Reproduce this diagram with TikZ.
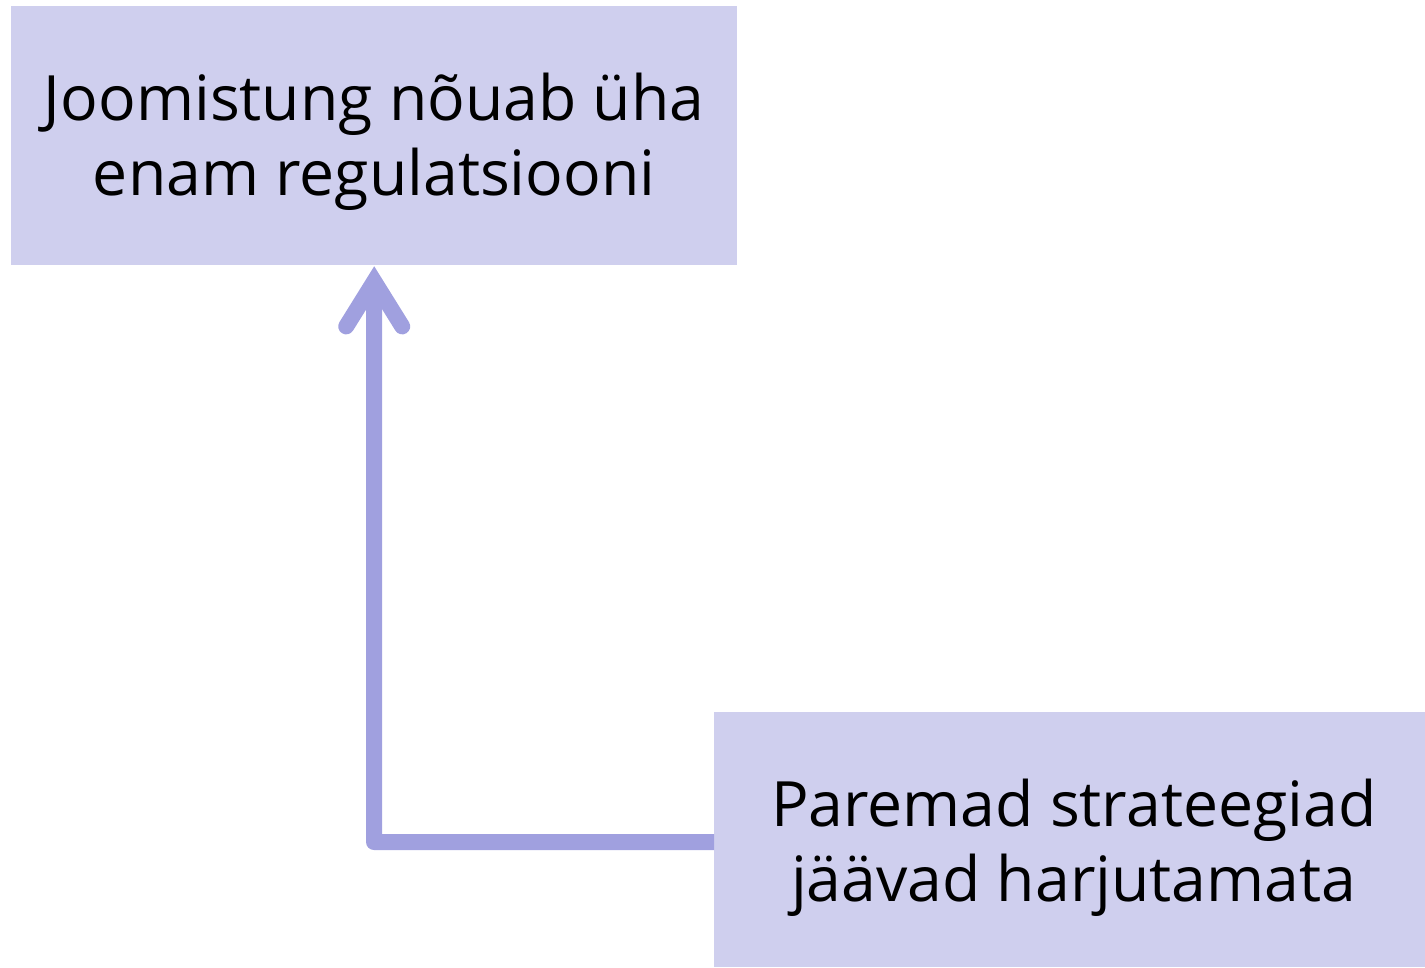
\documentclass[tikz,border=0pt]{standalone}
\usepackage{fontspec}
\setmainfont{Open Sans}
\definecolor{boxfill}{HTML}{CFCFEE}
\definecolor{arrowc}{HTML}{A0A0DF}
\begin{document}
\begin{tikzpicture}[x=1pt,y=-1pt,
  box/.style={fill=boxfill, draw=none, inner sep=0pt, anchor=north west},
  boxtext/.style={align=center, inner sep=0pt, yshift=-6pt,
    font=\fontsize{62.5}{75}\selectfont},
  conn/.style={draw=arrowc, line width=16pt, line join=round},
  chevron/.style={draw=arrowc, line width=16pt, line cap=round, line join=miter}]
\useasboundingbox (0,0) rectangle (1425,967);
\node[box, minimum width=726pt, minimum height=259pt,
  label={[boxtext, name=ta]center:Joomistung nõuab üha\\enam regulatsiooni}] (a) at (11,6) {};
\node[box, minimum width=711pt, minimum height=255pt,
  label={[boxtext, name=tb, xshift=4pt, yshift=-2pt]center:Paremad strateegiad\\jäävad harjutamata}] (b) at (714,712) {};
\coordinate (corner) at (374,842);
\draw[conn] (b.west |- corner) -- (corner) -- ([shift={(0,16)}]a.south);
\draw[chevron] ([shift={(-28,61)}]a.south) -- ([shift={(0,16)}]a.south) -- ([shift={(28,61)}]a.south);
\end{tikzpicture}
\end{document}
